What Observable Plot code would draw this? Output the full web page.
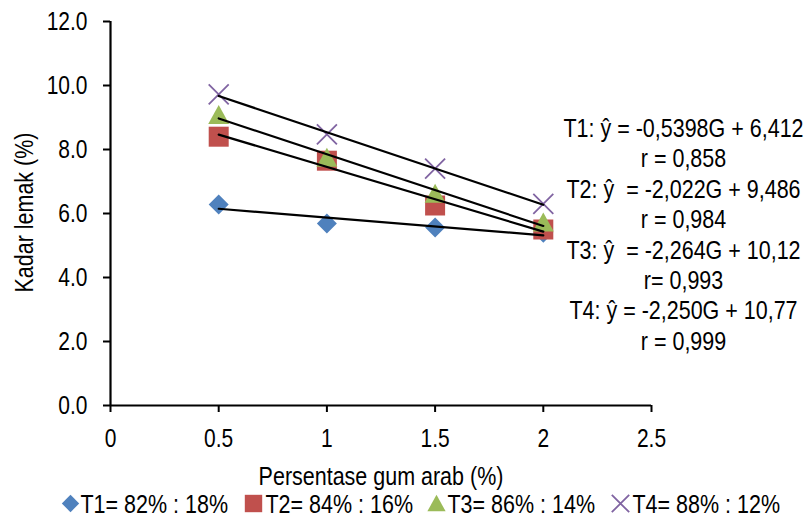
<!DOCTYPE html>
<html><head><meta charset="utf-8">
<script src="https://cdn.jsdelivr.net/npm/d3@7"></script>
<script src="https://cdn.jsdelivr.net/npm/@observablehq/plot@0.6"></script>
<style>body{margin:0;background:#fff} svg text{white-space:pre}</style>
</head><body><div id="chart"></div>
<script>
const gumArab = [0.5, 1, 1.5, 2];
const t1 = [6.28, 5.69, 5.56, 5.40];
const t2 = [8.40, 7.65, 6.25, 5.50];
const t3 = [9.08, 7.74, 6.62, 5.72];
const t4 = [9.72, 8.47, 7.40, 6.30];
const seriesNames = ["T1= 82% : 18%", "T2= 84% : 16%", "T3= 86% : 14%", "T4= 88% : 12%"];
const seriesColors = ["#4F81BD", "#C0504D", "#9BBB59", "#8064A2"];
const equations = ["T1: ŷ = -0,5398G + 6,412", "r = 0,858", "T2: ŷ  = -2,022G + 9,486", "r = 0,984",
  "T3: ŷ  = -2,264G + 10,12", "r= 0,993", "T4: ŷ = -2,250G + 10,77", "r = 0,999"];
const xTicks = [0, 0.5, 1, 1.5, 2, 2.5];
const yTicks = [0, 2, 4, 6, 8, 10, 12];
const xLabel = "Persentase gum arab (%)";
const yLabel = "Kadar lemak (%)";

const half = s => Math.sqrt(s / Math.PI);
const diamond = {draw(c, s) { const a = half(s); c.moveTo(0, -a); c.lineTo(a, 0); c.lineTo(0, a); c.lineTo(-a, 0); c.closePath(); }};
const square = {draw(c, s) { const a = half(s); c.moveTo(-a, -a); c.lineTo(a, -a); c.lineTo(a, a); c.lineTo(-a, a); c.closePath(); }};
const triangle = {draw(c, s) { const a = half(s); c.moveTo(0, -a); c.lineTo(a * 1.05, a * 0.9); c.lineTo(-a * 1.05, a * 0.9); c.closePath(); }};
const times = {draw(c, s) { const a = half(s); c.moveTo(-a, -a); c.lineTo(a, a); c.moveTo(a, -a); c.lineTo(-a, a); }};
const symbols = [diamond, square, triangle, times];
const values = [t1, t2, t3, t4];

const rows = values.flatMap((vals, i) => gumArab.map((g, j) => ({g, v: vals[j], series: seriesNames[i], k: i})));
const FS = 25;

const marks = [
  Plot.axisX({ticks: xTicks, tickFormat: d => String(d), tickSize: 7, tickPadding: 17, fontSize: FS, label: null, strokeWidth: 2}),
  Plot.axisY({ticks: yTicks, tickFormat: d3.format(".1f"), tickSize: 7, tickPadding: 16, fontSize: FS, label: null, strokeWidth: 2}),
  Plot.ruleY([0], {stroke: "black", strokeWidth: 2.2}),
  Plot.ruleX([0], {stroke: "black", strokeWidth: 2.2})
];
values.forEach((_, i) => {
  const isStroke = symbols[i] === times;
  marks.push(Plot.dot(rows.filter(d => d.k === i), {
    x: "g", y: "v", symbol: symbols[i], r: 10,
    fill: isStroke ? "none" : seriesColors[i],
    stroke: isStroke ? seriesColors[i] : "none",
    strokeWidth: isStroke ? 1.8 : 0
  }));
});
marks.push(Plot.linearRegressionY(rows, {x: "g", y: "v", z: "series", stroke: "black", strokeWidth: 2.2, ci: 0}));
marks.push(Plot.text([equations.join("\n")], {text: d => d, frameAnchor: "top-right", dx: 32, dy: 94,
  textAnchor: "middle", lineAnchor: "top", lineHeight: 1.216, fontSize: FS, fill: "black"}));
marks.push(Plot.text([xLabel], {text: d => d, frameAnchor: "bottom", dy: 71, textAnchor: "middle", lineAnchor: "middle", fontSize: FS, fill: "black"}));
marks.push(Plot.text([yLabel], {text: d => d, frameAnchor: "left", dx: -86, dy: -1, rotate: -90, textAnchor: "middle", lineAnchor: "middle", fontSize: FS, fill: "black"}));

const legSym = [-40, 143, 326, 510];
const legTxt = [-30, 155, 337, 522];
seriesNames.forEach((name, i) => {
  const isStroke = symbols[i] === times;
  marks.push(Plot.dot([name], {frameAnchor: "bottom-left", dx: legSym[i], dy: 98, symbol: symbols[i], r: 8.7,
    fill: isStroke ? "none" : seriesColors[i], stroke: isStroke ? seriesColors[i] : "none", strokeWidth: isStroke ? 1.8 : 0}));
  marks.push(Plot.text([name], {text: d => d, frameAnchor: "bottom-left", dx: legTxt[i], dy: 99,
    textAnchor: "start", lineAnchor: "middle", fontSize: FS, fill: "black"}));
});

const chart = Plot.plot({
  width: 808, height: 518,
  marginTop: 21, marginLeft: 110, marginRight: 157, marginBottom: 113,
  x: {domain: [0, 2.5]},
  y: {domain: [0, 12]},
  style: {fontFamily: "'Liberation Sans', Arial, sans-serif", fontSize: FS + "px", color: "black", background: "white"},
  marks
});

// Condense text horizontally (in its own frame) to mimic the narrow face of the original
chart.querySelectorAll("text").forEach(t => {
  const sx = t.closest('[aria-label$="tick label"]') ? 0.84 : 0.86;
  const tr = t.getAttribute("transform") || "";
  t.setAttribute("transform", `${tr} scale(${sx},1)`.trim());
});
document.getElementById("chart").appendChild(chart);
</script>
</body></html>
